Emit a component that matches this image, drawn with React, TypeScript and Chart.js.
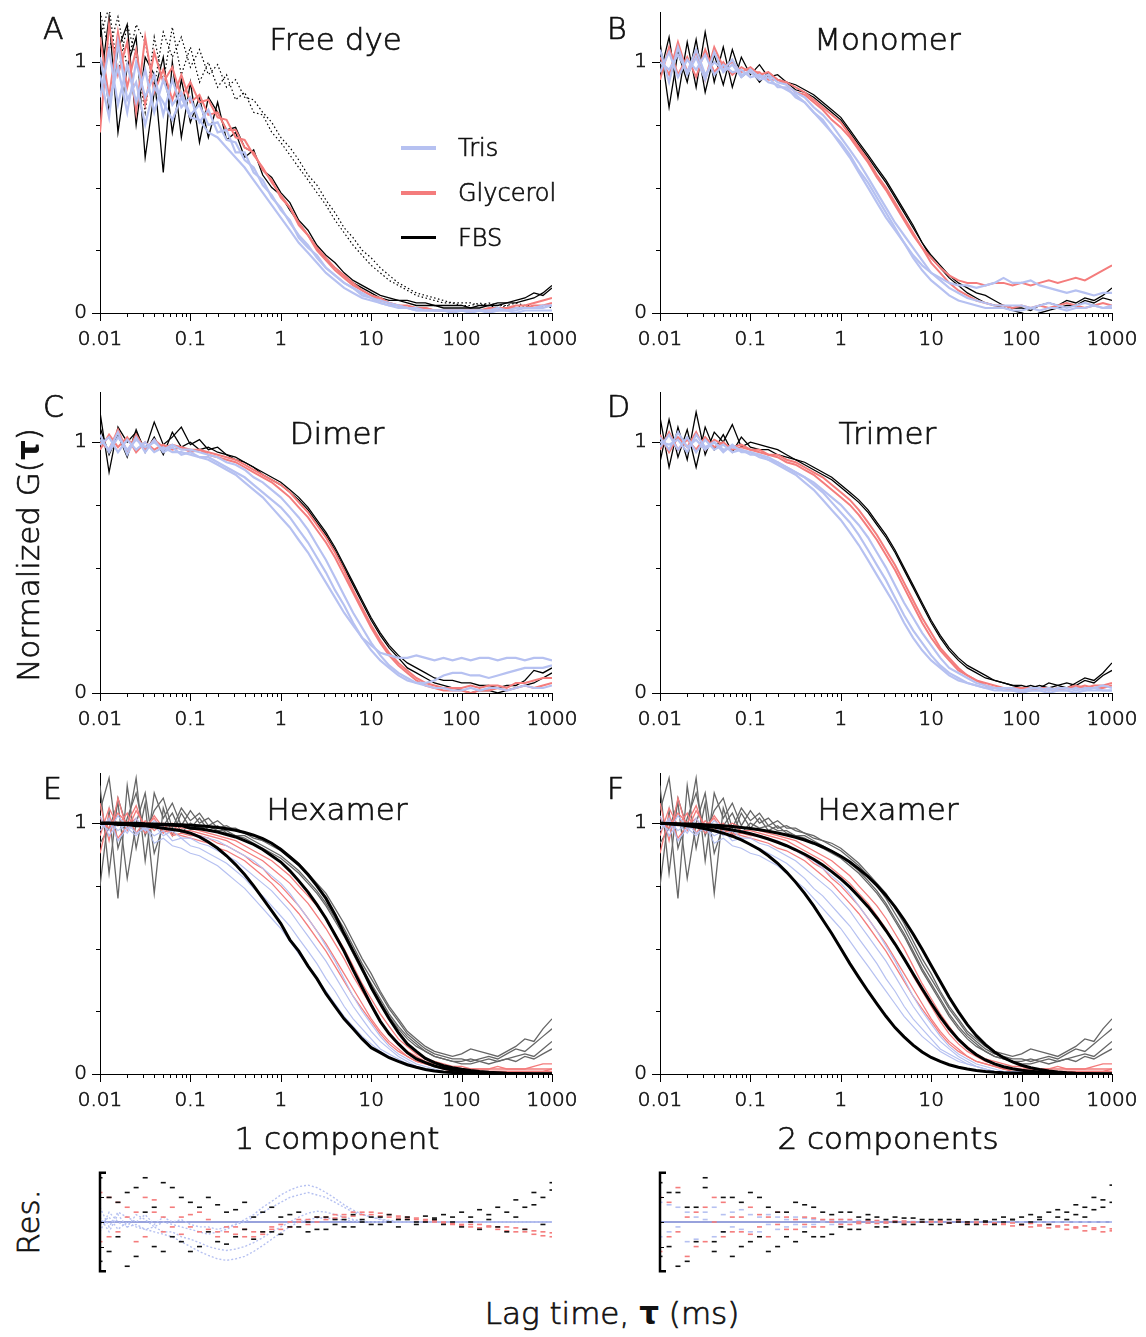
import React, { useEffect, useRef } from 'react';
import { Chart, registerables } from 'chart.js';
Chart.register(...registerables);

const FONT = "'DejaVu Sans', 'Liberation Sans', sans-serif";

// ---------- shared x grid (lag time, ms) and tick labels ----------
const xGrid = [
  0.01, 0.0126, 0.0158, 0.02, 0.0251, 0.0316, 0.0398, 0.0501, 0.0631, 0.0794,
  0.1, 0.126, 0.158, 0.2, 0.251, 0.316, 0.398, 0.501, 0.631, 0.794,
  1, 1.26, 1.58, 2, 2.51, 3.16, 3.98, 5.01, 6.31, 7.94,
  10, 12.6, 15.8, 20, 25.1, 31.6, 39.8, 50.1, 63.1, 79.4,
  100, 126, 158, 200, 251, 316, 398, 501, 631, 794, 1000,
];
const xTickLabels = ['0.01', '0.1', '1', '10', '100', '1000'];
const yTickLabels = ['0', '1'];
const legendLabels = ['Tris', 'Glycerol', 'FBS'];

// ---------- Panel A: Free dye ----------
const dyeTris = [
  [1.02,0.84,0.98,0.80,1.00,0.86,0.95,0.79,0.93,0.82, 0.86,0.76,0.81,0.72,0.73,0.64,0.64,0.56,0.53,0.46, 0.42,0.36,0.31,0.27,0.22,0.18,0.15,0.12,0.10,0.08, 0.06,0.05,0.04,0.03,0.02,0.02,0.01,0.01,0.01,0.01, 0.01,0.01,0.01,0.01,0.01,0.01,0.01,0.02,0.02,0.02,0.03],
  [0.86,1.05,0.83,0.99,0.84,0.97,0.80,0.93,0.83,0.88, 0.79,0.83,0.75,0.76,0.69,0.68,0.61,0.58,0.51,0.47, 0.41,0.37,0.30,0.26,0.23,0.18,0.15,0.12,0.10,0.07, 0.06,0.04,0.03,0.03,0.02,0.01,0.01,0.01,0.01,0.00, 0.01,0.00,0.01,0.00,0.01,0.01,0.00,0.01,0.01,0.01,0.01],
  [0.95,0.78,1.08,0.85,0.92,0.75,0.90,0.84,0.77,0.86, 0.78,0.77,0.72,0.70,0.66,0.62,0.58,0.53,0.48,0.43, 0.38,0.33,0.28,0.24,0.20,0.16,0.13,0.10,0.08,0.06, 0.05,0.04,0.03,0.02,0.02,0.01,0.01,0.01,0.01,0.01, 0.01,0.01,0.01,0.01,0.02,0.01,0.02,0.02,0.02,0.03,0.03],
];
const dyeGly = [
  [1.10,0.86,1.12,0.90,1.05,0.83,1.04,0.92,0.98,0.86, 0.92,0.84,0.85,0.78,0.77,0.70,0.69,0.63,0.58,0.52, 0.47,0.42,0.36,0.31,0.26,0.22,0.18,0.15,0.12,0.09, 0.07,0.06,0.04,0.03,0.03,0.02,0.02,0.01,0.01,0.01, 0.01,0.01,0.01,0.01,0.01,0.02,0.02,0.02,0.03,0.03,0.04],
  [0.72,1.15,0.95,1.08,0.80,1.10,0.88,0.97,0.85,0.95, 0.84,0.87,0.79,0.80,0.73,0.73,0.66,0.64,0.57,0.53, 0.46,0.42,0.35,0.31,0.25,0.21,0.17,0.14,0.11,0.09, 0.07,0.05,0.04,0.03,0.02,0.02,0.02,0.01,0.01,0.01, 0.01,0.01,0.01,0.02,0.02,0.02,0.03,0.03,0.04,0.05,0.06],
];
const dyeFbs = [
  [1.18,0.80,1.05,1.15,0.75,1.02,0.95,0.56,1.00,0.70, 0.92,0.68,0.86,0.80,0.73,0.74,0.66,0.64,0.57,0.54, 0.48,0.44,0.37,0.33,0.27,0.23,0.20,0.16,0.13,0.11, 0.09,0.07,0.06,0.05,0.05,0.04,0.04,0.03,0.03,0.03, 0.03,0.02,0.03,0.03,0.04,0.04,0.05,0.06,0.08,0.07,0.10],
  [0.90,1.18,0.72,0.98,1.10,0.62,0.88,1.02,0.72,0.93, 0.76,0.86,0.70,0.84,0.69,0.72,0.62,0.65,0.55,0.50, 0.47,0.41,0.36,0.31,0.26,0.21,0.18,0.15,0.12,0.10, 0.08,0.06,0.05,0.05,0.04,0.03,0.03,0.03,0.02,0.02, 0.02,0.02,0.02,0.03,0.03,0.04,0.04,0.05,0.06,0.08,0.11],
];
const dyeFbsDotted = [
  [1.20,1.05,1.18,0.98,1.15,1.08,0.90,1.12,1.02,1.10, 0.98,1.05,0.95,0.99,0.90,0.93,0.86,0.85,0.80,0.76, 0.70,0.66,0.61,0.55,0.51,0.45,0.40,0.34,0.30,0.25, 0.22,0.18,0.15,0.12,0.10,0.08,0.07,0.06,0.05,0.04, 0.04,0.04,0.03,0.04,0.03,0.03,0.04,0.03,0.03,0.03,0.03],
  [1.10,1.22,0.95,1.15,1.02,0.80,1.10,0.92,1.14,0.95, 1.06,0.92,1.00,0.90,0.95,0.85,0.88,0.80,0.79,0.72, 0.68,0.63,0.58,0.53,0.48,0.43,0.37,0.32,0.27,0.23, 0.19,0.16,0.13,0.11,0.09,0.07,0.06,0.05,0.04,0.04, 0.03,0.03,0.04,0.03,0.02,0.03,0.02,0.03,0.02,0.03,0.02],
];

// ---------- Panel B: Monomer ----------
const monoTris = [
  [1.05,0.92,1.06,0.95,1.02,0.93,1.04,0.96,0.99,0.94, 0.97,0.94,0.95,0.92,0.91,0.88,0.86,0.82,0.79,0.75, 0.70,0.65,0.60,0.54,0.48,0.42,0.36,0.31,0.26,0.21, 0.16,0.13,0.10,0.08,0.06,0.05,0.04,0.03,0.03,0.03, 0.03,0.02,0.03,0.04,0.03,0.02,0.03,0.04,0.03,0.02,0.03],
  [0.96,1.04,0.94,1.01,0.97,1.03,0.95,0.99,0.96,0.97, 0.94,0.95,0.92,0.91,0.89,0.87,0.84,0.80,0.76,0.72, 0.67,0.62,0.56,0.50,0.44,0.38,0.33,0.28,0.23,0.19, 0.16,0.14,0.12,0.11,0.11,0.10,0.11,0.12,0.14,0.12, 0.12,0.13,0.11,0.10,0.09,0.08,0.09,0.08,0.07,0.08,0.08],
  [1.00,0.97,1.03,0.96,1.05,0.95,1.00,0.97,1.01,0.95, 0.96,0.93,0.94,0.90,0.90,0.86,0.84,0.80,0.77,0.72, 0.68,0.63,0.57,0.52,0.46,0.40,0.34,0.28,0.22,0.17, 0.13,0.10,0.07,0.05,0.04,0.03,0.02,0.02,0.02,0.01, 0.01,0.02,0.01,0.02,0.02,0.01,0.02,0.02,0.03,0.02,0.02],
];
const monoGly = [
  [1.02,0.95,1.08,0.96,1.04,0.93,1.06,0.98,1.00,0.96, 0.98,0.95,0.96,0.93,0.92,0.90,0.88,0.85,0.82,0.79, 0.76,0.71,0.66,0.61,0.55,0.50,0.44,0.38,0.32,0.26, 0.20,0.16,0.12,0.09,0.07,0.05,0.04,0.03,0.03,0.02, 0.03,0.02,0.03,0.02,0.03,0.04,0.03,0.02,0.03,0.04,0.03],
  [0.93,1.06,0.95,1.02,0.94,1.05,0.96,1.00,0.95,0.98, 0.96,0.96,0.93,0.93,0.91,0.88,0.87,0.84,0.81,0.77, 0.74,0.70,0.65,0.60,0.54,0.49,0.43,0.37,0.31,0.26, 0.22,0.18,0.15,0.13,0.12,0.12,0.11,0.12,0.12,0.11, 0.12,0.11,0.12,0.13,0.12,0.13,0.14,0.13,0.15,0.17,0.19],
];
const monoFbs = [
  [0.95,1.10,0.86,1.08,0.90,1.12,0.92,1.06,0.90,1.02, 0.95,0.99,0.94,0.95,0.92,0.91,0.89,0.87,0.84,0.81, 0.78,0.73,0.68,0.63,0.58,0.53,0.47,0.41,0.35,0.28, 0.22,0.18,0.14,0.11,0.08,0.06,0.04,0.03,0.02,0.01, 0.00,-0.01,0.00,0.01,0.02,0.03,0.03,0.05,0.04,0.06,0.05],
  [1.08,0.82,1.04,0.92,1.09,0.88,1.03,0.91,1.05,0.94, 0.97,0.92,0.96,0.93,0.92,0.89,0.88,0.86,0.83,0.80, 0.77,0.72,0.67,0.62,0.57,0.52,0.46,0.40,0.34,0.28, 0.23,0.19,0.15,0.12,0.10,0.08,0.07,0.05,0.03,0.02, 0.02,0.01,0.03,0.04,0.03,0.05,0.04,0.06,0.05,0.07,0.10],
];

// ---------- Panel C: Dimer ----------
const dimTris = [
  [1.03,0.96,1.02,0.97,1.01,0.98,1.00,0.97,0.99,0.97, 0.97,0.96,0.95,0.94,0.92,0.91,0.89,0.86,0.84,0.81, 0.78,0.74,0.70,0.65,0.59,0.53,0.46,0.39,0.32,0.26, 0.20,0.15,0.11,0.08,0.06,0.04,0.03,0.02,0.02,0.01, 0.01,0.02,0.01,0.02,0.02,0.01,0.02,0.03,0.02,0.02,0.03],
  [0.99,1.02,0.96,1.01,0.97,1.00,0.96,0.98,0.96,0.96, 0.95,0.94,0.93,0.91,0.89,0.87,0.84,0.81,0.78,0.74, 0.70,0.66,0.61,0.56,0.50,0.44,0.38,0.32,0.27,0.22, 0.19,0.16,0.15,0.14,0.14,0.15,0.14,0.13,0.14,0.13, 0.14,0.13,0.14,0.14,0.13,0.14,0.14,0.13,0.14,0.14,0.13],
  [1.01,0.97,1.04,0.95,1.02,0.96,1.01,0.96,0.98,0.95, 0.96,0.94,0.94,0.92,0.90,0.88,0.86,0.83,0.80,0.77, 0.74,0.70,0.65,0.60,0.54,0.48,0.41,0.35,0.28,0.22, 0.17,0.13,0.10,0.07,0.05,0.04,0.04,0.05,0.07,0.08, 0.08,0.07,0.07,0.06,0.07,0.08,0.09,0.10,0.10,0.10,0.11],
];
const dimGly = [
  [1.00,0.97,1.05,0.96,1.03,0.97,1.01,0.98,0.99,0.98, 0.97,0.97,0.96,0.95,0.94,0.93,0.91,0.89,0.87,0.85, 0.83,0.80,0.76,0.72,0.67,0.62,0.56,0.49,0.41,0.34, 0.27,0.21,0.16,0.12,0.09,0.06,0.04,0.03,0.02,0.02, 0.02,0.03,0.02,0.03,0.03,0.02,0.04,0.04,0.05,0.06,0.06],
  [0.97,1.03,0.98,1.02,0.96,1.00,0.97,0.99,0.97,0.98, 0.96,0.97,0.95,0.94,0.93,0.92,0.90,0.88,0.86,0.84, 0.81,0.78,0.74,0.70,0.65,0.60,0.54,0.47,0.40,0.33, 0.26,0.20,0.15,0.11,0.08,0.05,0.03,0.02,0.01,0.01, 0.01,0.00,0.01,0.01,0.02,0.01,0.02,0.03,0.02,0.03,0.04],
];
const dimFbs = [
  [1.12,0.88,1.06,1.00,1.04,0.97,1.08,0.99,1.02,1.06, 0.99,1.01,0.97,0.98,0.95,0.94,0.92,0.90,0.88,0.86, 0.84,0.81,0.78,0.74,0.69,0.64,0.58,0.51,0.44,0.37, 0.30,0.24,0.19,0.15,0.12,0.10,0.08,0.06,0.05,0.05, 0.04,0.04,0.03,0.03,0.02,0.03,0.03,0.05,0.09,0.08,0.10],
  [1.06,0.95,1.03,0.94,1.05,0.96,1.02,0.95,1.04,0.98, 1.00,0.97,0.98,0.96,0.95,0.93,0.92,0.90,0.87,0.85, 0.83,0.80,0.77,0.73,0.68,0.63,0.57,0.50,0.43,0.36, 0.29,0.23,0.18,0.14,0.10,0.08,0.06,0.04,0.03,0.02, 0.01,0.00,0.01,0.01,0.00,0.01,0.02,0.03,0.04,0.06,0.08],
];

// ---------- Panel D: Trimer ----------
const triTris = [
  [1.02,0.97,1.04,0.98,1.01,0.97,1.00,0.96,0.99,0.96, 0.96,0.95,0.94,0.92,0.90,0.88,0.86,0.83,0.80,0.76, 0.72,0.68,0.63,0.57,0.51,0.45,0.38,0.31,0.25,0.20, 0.15,0.11,0.08,0.06,0.04,0.03,0.02,0.02,0.01,0.01, 0.01,0.01,0.01,0.02,0.01,0.01,0.02,0.01,0.02,0.01,0.01],
  [0.98,1.03,0.97,1.02,0.96,1.01,0.97,0.99,0.96,0.97, 0.95,0.95,0.93,0.92,0.90,0.88,0.86,0.84,0.81,0.78, 0.75,0.71,0.67,0.62,0.56,0.50,0.43,0.36,0.30,0.24, 0.19,0.14,0.10,0.08,0.06,0.04,0.03,0.02,0.02,0.02, 0.01,0.02,0.02,0.01,0.02,0.02,0.01,0.02,0.02,0.03,0.02],
  [1.00,0.99,1.01,0.96,1.03,0.98,1.00,0.97,0.98,0.97, 0.96,0.94,0.93,0.91,0.89,0.87,0.84,0.81,0.77,0.73, 0.69,0.64,0.59,0.53,0.47,0.41,0.35,0.28,0.22,0.17, 0.13,0.10,0.07,0.05,0.04,0.03,0.02,0.01,0.01,0.01, 0.00,0.01,0.01,0.00,0.01,0.01,0.00,0.01,0.01,0.01,0.01],
];
const triGly = [
  [1.03,0.96,1.02,0.98,1.04,0.97,1.01,0.99,0.98,0.99, 0.97,0.97,0.95,0.95,0.93,0.92,0.90,0.88,0.86,0.83, 0.80,0.77,0.73,0.68,0.63,0.57,0.51,0.44,0.37,0.30, 0.24,0.18,0.14,0.10,0.07,0.05,0.04,0.03,0.02,0.02, 0.02,0.02,0.02,0.01,0.02,0.02,0.03,0.02,0.03,0.03,0.04],
  [0.97,1.04,0.97,1.01,0.97,1.02,0.98,1.00,0.97,0.98, 0.97,0.96,0.95,0.94,0.92,0.91,0.89,0.87,0.84,0.81, 0.78,0.75,0.71,0.66,0.61,0.55,0.49,0.42,0.35,0.28, 0.22,0.17,0.13,0.09,0.07,0.05,0.03,0.02,0.02,0.01, 0.01,0.01,0.02,0.02,0.01,0.02,0.02,0.03,0.02,0.02,0.03],
];
const triFbs = [
  [1.10,0.90,1.06,0.93,1.12,0.95,1.04,1.00,1.07,0.98, 1.00,0.99,0.98,0.97,0.95,0.93,0.92,0.90,0.88,0.86, 0.83,0.80,0.77,0.73,0.68,0.63,0.57,0.50,0.43,0.36, 0.29,0.23,0.18,0.14,0.11,0.09,0.07,0.05,0.04,0.03, 0.03,0.02,0.03,0.02,0.03,0.04,0.03,0.05,0.04,0.07,0.09],
  [0.92,1.09,0.94,1.05,0.90,1.06,0.97,1.03,0.96,1.02, 0.98,0.97,0.97,0.95,0.94,0.93,0.91,0.89,0.87,0.85, 0.82,0.79,0.76,0.72,0.67,0.62,0.56,0.49,0.42,0.35, 0.28,0.22,0.17,0.13,0.10,0.08,0.06,0.05,0.04,0.03, 0.02,0.03,0.02,0.04,0.03,0.02,0.04,0.06,0.05,0.08,0.12],
];

// ---------- Panels E/F: Hexamer data (shared) ----------
const hexTris = [
  [0.97,1.02,0.93,0.98,0.95,0.99,0.92,0.94,0.91,0.90, 0.88,0.87,0.85,0.83,0.80,0.77,0.74,0.70,0.66,0.62, 0.58,0.53,0.48,0.43,0.38,0.33,0.28,0.23,0.19,0.15, 0.12,0.09,0.07,0.05,0.04,0.03,0.02,0.01,0.01,0.00, 0.00,0.00,0.00,0.00,0.00,0.00,0.00,0.00,0.00,0.00,0.00],
  [1.03,0.95,1.00,0.96,1.02,0.97,0.99,0.95,0.97,0.94, 0.94,0.92,0.91,0.89,0.87,0.85,0.82,0.79,0.76,0.73, 0.69,0.65,0.60,0.55,0.50,0.45,0.39,0.33,0.27,0.22, 0.17,0.13,0.10,0.07,0.05,0.03,0.02,0.01,0.01,0.00, 0.00,0.00,0.00,0.00,0.00,0.00,0.00,0.00,0.00,0.00,0.00],
  [0.99,1.01,0.97,1.00,0.96,0.98,0.95,0.97,0.93,0.94, 0.91,0.90,0.88,0.86,0.84,0.81,0.78,0.74,0.71,0.67, 0.63,0.59,0.54,0.49,0.44,0.38,0.33,0.27,0.22,0.18, 0.14,0.10,0.08,0.06,0.04,0.03,0.02,0.01,0.01,0.01, 0.00,0.00,0.00,0.00,0.00,0.00,0.00,0.00,0.00,0.00,0.00],
  [1.00,0.97,1.03,0.98,1.00,0.97,1.01,0.98,0.97,0.97, 0.96,0.95,0.94,0.93,0.91,0.89,0.87,0.85,0.82,0.79, 0.76,0.72,0.67,0.62,0.57,0.51,0.45,0.38,0.31,0.25, 0.20,0.15,0.11,0.08,0.06,0.04,0.03,0.02,0.01,0.01, 0.01,0.00,0.00,0.00,0.00,0.00,0.00,0.00,0.00,0.00,0.00],
];
const hexGly = [
  [1.08,0.93,1.10,0.97,1.05,0.99,1.02,0.96,0.99,0.97, 0.97,0.96,0.95,0.94,0.93,0.91,0.89,0.87,0.85,0.82, 0.79,0.76,0.72,0.68,0.63,0.58,0.52,0.46,0.39,0.33, 0.27,0.21,0.16,0.12,0.09,0.07,0.05,0.04,0.03,0.02, 0.02,0.02,0.02,0.02,0.02,0.02,0.02,0.02,0.02,0.02,0.02],
  [0.95,1.06,0.99,1.04,0.96,1.01,0.97,1.00,0.95,0.96, 0.95,0.95,0.94,0.92,0.91,0.89,0.87,0.84,0.82,0.78, 0.75,0.71,0.67,0.62,0.57,0.52,0.46,0.40,0.34,0.28, 0.22,0.17,0.13,0.10,0.07,0.05,0.04,0.03,0.02,0.02, 0.01,0.01,0.01,0.01,0.01,0.01,0.01,0.01,0.01,0.01,0.02],
  [1.02,0.98,1.04,1.00,1.07,0.97,1.03,0.98,1.00,0.98, 0.98,0.97,0.96,0.95,0.94,0.93,0.91,0.89,0.87,0.85, 0.82,0.79,0.75,0.71,0.67,0.62,0.56,0.50,0.43,0.36, 0.30,0.24,0.19,0.14,0.11,0.08,0.06,0.05,0.04,0.03, 0.03,0.02,0.02,0.02,0.03,0.02,0.02,0.02,0.03,0.04,0.04],
  [0.88,1.03,0.94,0.99,1.02,0.96,0.99,0.97,0.96,0.95, 0.94,0.93,0.92,0.90,0.89,0.87,0.85,0.82,0.79,0.76, 0.72,0.68,0.64,0.59,0.54,0.49,0.43,0.37,0.31,0.26, 0.21,0.16,0.12,0.09,0.07,0.05,0.04,0.03,0.02,0.01, 0.01,0.01,0.01,0.01,0.01,0.01,0.01,0.01,0.01,0.01,0.01],
];
const hexFbs = [
  [1.15,0.80,1.10,0.98,1.18,0.85,1.12,1.02,1.08,0.99, 1.05,1.00,1.02,0.98,0.99,0.97,0.96,0.94,0.93,0.91, 0.89,0.86,0.83,0.79,0.75,0.70,0.64,0.58,0.51,0.44, 0.38,0.32,0.26,0.21,0.16,0.13,0.10,0.08,0.07,0.06, 0.06,0.05,0.06,0.07,0.06,0.08,0.10,0.09,0.12,0.15,0.18],
  [0.75,1.05,0.70,1.15,0.90,1.08,0.72,1.06,0.95,1.04, 0.98,1.02,0.97,0.99,0.96,0.95,0.94,0.92,0.90,0.88, 0.86,0.83,0.80,0.76,0.72,0.67,0.61,0.55,0.48,0.41, 0.35,0.29,0.23,0.18,0.14,0.11,0.09,0.07,0.06,0.05, 0.05,0.06,0.05,0.04,0.05,0.06,0.05,0.07,0.06,0.08,0.10],
  [1.05,1.18,0.90,1.02,1.12,0.95,1.05,1.10,0.98,1.06, 1.01,1.04,0.99,1.01,0.98,0.98,0.96,0.95,0.93,0.92, 0.90,0.87,0.84,0.80,0.76,0.72,0.66,0.60,0.53,0.46, 0.40,0.33,0.27,0.22,0.17,0.14,0.11,0.09,0.08,0.07, 0.08,0.10,0.09,0.08,0.07,0.09,0.11,0.14,0.13,0.18,0.22],
  [0.92,0.98,1.08,0.78,1.00,1.12,0.88,0.99,1.04,0.96, 1.00,0.98,0.99,0.97,0.97,0.95,0.95,0.93,0.91,0.89, 0.87,0.84,0.81,0.77,0.73,0.68,0.62,0.56,0.49,0.42, 0.36,0.30,0.24,0.19,0.15,0.12,0.09,0.07,0.06,0.05, 0.04,0.04,0.05,0.06,0.05,0.06,0.07,0.08,0.07,0.10,0.13],
];

// fits, 1 component (panel E)
const fit1Tris = [1.00,1.00,0.995,0.995,0.99,0.99,0.985,0.98,0.975,0.97, 0.96,0.945,0.925,0.90,0.87,0.835,0.795,0.75,0.70,0.65, 0.60,0.535,0.49,0.43,0.38,0.32,0.27,0.22,0.18,0.14, 0.105,0.085,0.065,0.05,0.037,0.027,0.018,0.012,0.008,0.006, 0.004,0.003,0.002,0.0015,0.001,0.001,0,0,0,0,0];
const fit1Gly = [1.00,1.00,1.00,0.998,0.997,0.996,0.995,0.994,0.992,0.99, 0.98,0.978,0.972,0.965,0.955,0.945,0.93,0.915,0.895,0.87, 0.845,0.81,0.77,0.725,0.675,0.62,0.555,0.49,0.415,0.345, 0.275,0.21,0.16,0.12,0.085,0.06,0.045,0.032,0.023,0.016, 0.012,0.008,0.006,0.004,0.003,0.002,0.001,0.001,0,0,0];
const fit1Fbs = [1.00,1.00,1.00,1.00,1.00,0.998,0.997,0.996,0.995,0.994, 0.992,0.99,0.987,0.983,0.978,0.972,0.963,0.952,0.938,0.92, 0.895,0.865,0.835,0.795,0.75,0.70,0.635,0.56,0.49,0.42, 0.345,0.28,0.22,0.165,0.12,0.09,0.062,0.045,0.033,0.025, 0.019,0.014,0.01,0.007,0.005,0.003,0.002,0.001,0,0,0];
// fits, 2 components (panel F)
const fit2Tris = [1.00,0.998,0.995,0.99,0.985,0.978,0.97,0.96,0.948,0.933, 0.915,0.895,0.87,0.84,0.805,0.765,0.72,0.67,0.615,0.56, 0.50,0.44,0.385,0.33,0.28,0.23,0.185,0.148,0.115,0.088, 0.066,0.05,0.037,0.027,0.02,0.014,0.01,0.007,0.005,0.004, 0.003,0.002,0.001,0.001,0,0,0,0,0,0,0];
const fit2Gly = [1.00,0.998,0.996,0.994,0.991,0.988,0.984,0.979,0.973,0.966, 0.958,0.948,0.937,0.924,0.91,0.894,0.876,0.856,0.833,0.807, 0.778,0.745,0.708,0.667,0.622,0.572,0.518,0.46,0.40,0.34, 0.282,0.228,0.18,0.138,0.104,0.077,0.056,0.04,0.029,0.021, 0.015,0.011,0.008,0.005,0.004,0.003,0.002,0.001,0,0,0];
const fit2Fbs = [1.00,0.999,0.998,0.997,0.996,0.994,0.992,0.99,0.987,0.983, 0.979,0.974,0.968,0.961,0.953,0.944,0.933,0.92,0.905,0.888, 0.868,0.845,0.818,0.787,0.752,0.712,0.666,0.615,0.558,0.497, 0.433,0.369,0.306,0.248,0.197,0.153,0.117,0.088,0.065,0.048, 0.035,0.025,0.018,0.012,0.008,0.005,0.003,0.002,0.001,0,0];

// ---------- residuals ----------
const resZeroX = [0.01, 1000];
const resZeroY = [0, 0];
const res1Fbs = [
  [0.9,-0.6,0.4,-0.9,0.7,0.2,-0.5,0.8,-0.3,0.5, -0.6,0.3,0.5,-0.4,0.2,-0.3,0.4,0.1,-0.2,0.3, 0.1,-0.1,0.2,0.0,-0.15,0.1,0.05,-0.1,0.15,0.0, 0.1,-0.05,0.15,0.05,0.1,0.0,0.12,0.08,0.15,0.1, 0.2,0.1,0.25,0.15,0.3,0.2,0.45,0.3,0.6,0.5,0.8],
  [-0.8,0.5,-0.3,0.6,-0.7,0.9,0.3,-0.6,0.7,-0.4, 0.4,-0.5,-0.2,0.35,-0.45,0.25,-0.15,-0.35,0.2,-0.2, -0.25,0.15,-0.1,-0.2,0.1,-0.15,-0.05,0.05,-0.1,0.05, -0.05,0.1,0.0,-0.1,0.05,-0.05,0.0,0.05,-0.05,0.0, -0.1,0.0,-0.15,0.05,-0.1,-0.2,0.1,-0.15,0.35,-0.05,0.65],
];
const res1Gly = [
  [0.6,-0.3,0.4,0.1,-0.4,0.5,0.2,-0.2,0.3,0.1, -0.1,0.2,-0.15,-0.2,-0.1,-0.25,-0.15,-0.3,-0.2,-0.1, -0.15,0.0,0.05,-0.05,0.1,0.05,0.15,0.1,0.2,0.15, 0.2,0.12,0.15,0.08,0.1,0.05,0.05,0.0,0.0,-0.05, -0.05,-0.1,-0.05,-0.1,-0.15,-0.1,-0.2,-0.15,-0.25,-0.2,-0.3],
  [-0.4,0.5,-0.2,0.3,0.2,-0.3,0.45,0.1,-0.1,-0.25, 0.15,-0.2,0.05,-0.3,-0.2,-0.1,-0.3,-0.2,-0.25,-0.15, -0.05,-0.1,0.0,0.05,0.0,0.1,0.08,0.15,0.12,0.2, 0.15,0.18,0.1,0.12,0.06,0.08,0.02,0.03,-0.02,-0.03, -0.08,-0.05,-0.12,-0.08,-0.1,-0.18,-0.12,-0.2,-0.18,-0.28,-0.22],
];
const res1Tris = [
  [0.3,-0.1,0.2,0.1,0.0,0.15,-0.05,0.1,0.0,0.05, -0.05,-0.1,-0.1,-0.15,-0.1,-0.05,0.0,0.1,0.2,0.3, 0.4,0.5,0.55,0.6,0.55,0.5,0.4,0.3,0.2,0.15, 0.1,0.05,0.02,0.0,0.0,0.0,0.0,0.0,0.0,0.0, 0,0,0,0,0,0,0,0,0,0,0],
  [-0.2,0.2,0.0,-0.1,0.15,0.05,-0.1,0.0,-0.05,-0.1, -0.15,-0.2,-0.25,-0.2,-0.15,-0.05,0.05,0.15,0.3,0.42, 0.55,0.65,0.72,0.75,0.7,0.6,0.48,0.35,0.24,0.16, 0.1,0.06,0.03,0.01,0,0,0,0,0,0, 0,0,0,0,0,0,0,0,0,0,0],
  [0.1,-0.2,0.15,-0.1,-0.05,-0.15,-0.2,-0.25,-0.3,-0.4, -0.5,-0.6,-0.68,-0.75,-0.78,-0.75,-0.7,-0.6,-0.48,-0.35, -0.22,-0.1,0.0,0.05,0.08,0.08,0.06,0.04,0.02,0.01, 0,0,0,0,0,0,0,0,0,0, 0,0,0,0,0,0,0,0,0,0,0],
  [-0.05,0.1,-0.15,0.0,-0.1,-0.15,-0.1,-0.2,-0.2,-0.3, -0.35,-0.42,-0.5,-0.55,-0.58,-0.55,-0.5,-0.42,-0.32,-0.2, -0.1,0.0,0.1,0.18,0.22,0.2,0.15,0.1,0.05,0.02, 0,0,0,0,0,0,0,0,0,0, 0,0,0,0,0,0,0,0,0,0,0],
];
const res2Fbs = [
  [0.8,-0.5,0.6,-0.8,0.3,0.9,-0.4,0.5,-0.7,0.4, 0.6,-0.3,0.3,-0.5,0.2,0.4,-0.2,0.3,-0.3,0.15, 0.2,-0.15,0.1,0.15,-0.1,0.05,0.1,-0.05,0.08,0.0, 0.05,-0.05,0.05,0.0,-0.05,0.05,0.0,0.05,0.1,0.05, 0.1,0.15,0.1,0.2,0.25,0.2,0.35,0.3,0.5,0.45,0.75],
  [-0.7,0.6,-0.9,0.3,-0.4,0.7,-0.6,-0.2,0.5,-0.5, -0.4,0.5,-0.6,0.2,-0.3,-0.4,0.35,-0.3,0.2,-0.25, -0.1,0.2,-0.15,0.05,0.1,-0.1,0.0,0.08,-0.05,0.05, -0.05,0.05,-0.02,0.05,0.0,-0.05,0.02,-0.05,0.0,0.05, -0.05,0.0,0.05,-0.05,0.1,0.05,0.15,0.1,0.25,0.3,0.4],
];
const res2Gly = [
  [0.5,-0.3,0.7,0.1,-0.5,0.3,0.0,0.4,-0.2,0.1, 0.3,-0.1,0.1,0.2,-0.15,0.05,0.1,-0.1,0.05,0.0, 0.05,-0.05,0.0,0.03,-0.03,0.0,0.02,-0.02,0.0,0.0, 0.0,0.02,-0.02,0.0,-0.03,0.0,-0.05,-0.03,-0.05,-0.08, -0.06,-0.1,-0.08,-0.12,-0.1,-0.15,-0.12,-0.18,-0.15,-0.2,-0.18],
  [-0.6,0.4,-0.2,-0.7,0.2,-0.4,0.5,-0.3,0.1,-0.2, -0.25,0.15,-0.3,-0.05,0.1,-0.15,-0.05,0.08,-0.1,0.05, -0.05,0.05,-0.03,-0.02,0.03,-0.02,0.0,0.02,-0.01,0.0, 0.01,0.0,-0.01,0.02,0.0,-0.02,0.0,-0.02,-0.04,-0.02, -0.05,-0.03,-0.06,-0.05,-0.08,-0.06,-0.1,-0.08,-0.12,-0.1,-0.14],
];
const res2Tris = [
  [0.4,-0.2,0.3,-0.4,0.1,0.2,-0.3,0.15,-0.1,0.25, -0.2,0.1,0.15,-0.15,0.05,0.1,-0.1,0.05,0.0,-0.05, 0.05,0.0,-0.03,0.03,0.0,-0.02,0.02,0.0,0.0,0.0, 0,0,0,0,0,0,0,0,0,0, 0,0,0,0,0,0,0,0,0,0,0],
  [-0.3,0.35,-0.1,0.2,-0.35,0.05,0.3,-0.2,0.2,-0.15, 0.15,-0.2,-0.05,0.1,-0.1,-0.05,0.08,-0.05,0.04,0.02, -0.03,0.02,0.03,-0.02,0.01,0.02,-0.01,0.0,0.01,0.0, 0,0,0,0,0,0,0,0,0,0, 0,0,0,0,0,0,0,0,0,0,0],
];

// ---------- styling ----------
const C_TRIS = '#b6c1f1';
const C_GLY = '#f47c7c';
const C_FBS = '#000000';
const C_GREY = '#666666';
const TEXT_COLOR = '#111';

function pts(ys: number[], xs: number[] = xGrid) {
  return xs.map((x, i) => ({ x, y: ys[i] }));
}
function line(ys: number[], color: string, width: number, dash: number[] = []) {
  return { type: 'line', data: pts(ys), borderColor: color, borderWidth: width, borderDash: dash, pointRadius: 0, fill: false, tension: 0 };
}
function dashes(ys: number[], color: string) {
  return { type: 'line', data: pts(ys), showLine: false, borderColor: color, backgroundColor: color, pointStyle: 'line', pointRadius: 2.5, pointBorderWidth: 1.6, pointBorderColor: color };
}

function xLabel(v: number) {
  const lg = Math.log10(v);
  const r = Math.round(lg);
  return Math.abs(lg - r) < 1e-6 ? (xTickLabels[r + 2] ?? '') : '';
}

const tickPlugin = {
  id: 'customTicks',
  afterDraw(chart: any) {
    const { ctx } = chart;
    const xs = chart.scales.x;
    const ys = chart.scales.y;
    ctx.save();
    ctx.strokeStyle = '#000';
    ctx.lineWidth = 1;
    ctx.beginPath();
    for (const t of xs.ticks) {
      const lg = Math.log10(t.value);
      const major = Math.abs(lg - Math.round(lg)) < 1e-6;
      const px = Math.round(xs.getPixelForValue(t.value)) + 0.5;
      ctx.moveTo(px, xs.top);
      ctx.lineTo(px, xs.top + (major ? 8 : 4));
    }
    for (const t of ys.ticks) {
      if (t.value > 1.0001) continue;
      const major = t.value === 0 || t.value === 1;
      const py = Math.round(ys.getPixelForValue(t.value)) + 0.5;
      ctx.moveTo(ys.right, py);
      ctx.lineTo(ys.right - (major ? 8 : 4), py);
    }
    ctx.stroke();
    ctx.restore();
  },
};

const bracketPlugin = {
  id: 'resBracket',
  afterDraw(chart: any) {
    const { ctx } = chart;
    const ys = chart.scales.y;
    const left = chart.chartArea.left;
    const top = ys.getPixelForValue(1);
    const bot = ys.getPixelForValue(-1);
    ctx.save();
    ctx.strokeStyle = '#000';
    ctx.lineWidth = 2.5;
    ctx.beginPath();
    ctx.moveTo(left + 6, top);
    ctx.lineTo(left, top);
    ctx.lineTo(left, bot);
    ctx.lineTo(left + 6, bot);
    ctx.stroke();
    ctx.lineWidth = 1;
    ctx.beginPath();
    for (const v of [0.5, 0, -0.5]) {
      const py = Math.round(ys.getPixelForValue(v)) + 0.5;
      ctx.moveTo(left, py);
      ctx.lineTo(left + 4, py);
    }
    ctx.stroke();
    ctx.restore();
  },
};

const tickFont = { family: FONT, size: 20, weight: '300' };
const hiddenGrid = { display: true, drawOnChartArea: false, drawTicks: true, tickLength: 8, color: 'rgba(0,0,0,0)' };

function mainConfig(datasets: any[]) {
  return {
    type: 'line',
    data: { datasets },
    plugins: [tickPlugin],
    options: {
      animation: false,
      responsive: false,
      events: [],
      layout: { padding: { left: 0, right: 32, top: 10, bottom: 0 } },
      plugins: { legend: { display: false }, tooltip: { enabled: false } },
      scales: {
        x: {
          type: 'logarithmic', min: 0.01, max: 1000,
          afterFit: (s: any) => { s.height = 40; s.paddingLeft = 0; s.paddingRight = 0; },
          grid: hiddenGrid,
          border: { display: true, color: '#000', width: 1 },
          ticks: { autoSkip: false, maxRotation: 0, minRotation: 0, padding: 7, color: TEXT_COLOR, textStrokeColor: TEXT_COLOR, textStrokeWidth: 0.7, font: tickFont, callback: (v: number) => xLabel(v) },
        },
        y: {
          type: 'linear', min: 0, max: 1.2,
          afterFit: (s: any) => { s.width = 40; s.paddingTop = 0; s.paddingBottom = 0; },
          grid: hiddenGrid,
          border: { display: true, color: '#000', width: 1 },
          ticks: { stepSize: 0.25, includeBounds: false, autoSkip: false, padding: 5, color: TEXT_COLOR, textStrokeColor: TEXT_COLOR, textStrokeWidth: 0.7, font: tickFont,
            callback: (v: number) => (v === 0 ? yTickLabels[0] : v === 1 ? yTickLabels[1] : '') },
        },
      },
    },
  };
}

function resConfig(datasets: any[]) {
  return {
    type: 'line',
    data: { datasets },
    plugins: [bracketPlugin],
    options: {
      animation: false,
      responsive: false,
      events: [],
      layout: { padding: { left: 40, right: 32, top: 10, bottom: 10 } },
      plugins: { legend: { display: false }, tooltip: { enabled: false } },
      scales: {
        x: { type: 'logarithmic', min: 0.01, max: 1000, display: false },
        y: { type: 'linear', min: -1.2, max: 1.2, display: false },
      },
    },
  };
}

function panelDatasets(tris: number[][], gly: number[][], fbs: number[][], extra: any[] = []) {
  return [
    ...tris.map((d) => line(d, C_TRIS, 2.2)),
    ...gly.map((d) => line(d, C_GLY, 2)),
    ...fbs.map((d) => line(d, C_FBS, 1.3)),
    ...extra,
  ];
}

function hexDatasets(fits: number[][]) {
  return [
    ...fits.map((d) => line(d, '#000', 3)),
    ...hexTris.map((d) => line(d, C_TRIS, 1.2)),
    ...hexGly.map((d) => line(d, C_GLY, 1.3)),
    ...hexFbs.map((d) => line(d, C_GREY, 1.3)),
  ];
}

const zeroLine = { type: 'line', data: pts(resZeroY, resZeroX), borderColor: '#98a2dc', borderWidth: 2, pointRadius: 0 };

const charts = [
  { left: 60, top: 2, w: 524, h: 351, cfg: () => mainConfig(panelDatasets(dyeTris, dyeGly, dyeFbs, dyeFbsDotted.map((d) => line(d, '#000', 1.2, [1.5, 2.5])))) },
  { left: 620, top: 2, w: 524, h: 351, cfg: () => mainConfig(panelDatasets(monoTris, monoGly, monoFbs)) },
  { left: 60, top: 382, w: 524, h: 351, cfg: () => mainConfig(panelDatasets(dimTris, dimGly, dimFbs)) },
  { left: 620, top: 382, w: 524, h: 351, cfg: () => mainConfig(panelDatasets(triTris, triGly, triFbs)) },
  { left: 60, top: 763, w: 524, h: 351, cfg: () => mainConfig(hexDatasets([fit1Tris, fit1Gly, fit1Fbs])) },
  { left: 620, top: 763, w: 524, h: 351, cfg: () => mainConfig(hexDatasets([fit2Tris, fit2Gly, fit2Fbs])) },
  { left: 60, top: 1153, w: 524, h: 138, cfg: () => resConfig([
      ...res1Fbs.map((d) => dashes(d, '#111')),
      ...res1Gly.map((d) => dashes(d, C_GLY)),
      ...res1Tris.map((d) => line(d, C_TRIS, 1.4, [2, 2])),
      zeroLine,
    ]) },
  { left: 620, top: 1153, w: 524, h: 138, cfg: () => resConfig([
      ...res2Fbs.map((d) => dashes(d, '#111')),
      ...res2Gly.map((d) => dashes(d, C_GLY)),
      ...res2Tris.map((d) => dashes(d, C_TRIS)),
      zeroLine,
    ]) },
];

function ChartBox({ spec }: { spec: any }) {
  const ref = useRef<HTMLCanvasElement | null>(null);
  useEffect(() => {
    if (!ref.current) return;
    const c = new Chart(ref.current, spec.cfg());
    return () => c.destroy();
  }, []);
  return (
    <canvas ref={ref} width={spec.w} height={spec.h}
      style={{ position: 'absolute', left: spec.left, top: spec.top, width: spec.w, height: spec.h }} />
  );
}

const textBase: React.CSSProperties = { position: 'absolute', fontFamily: FONT, fontWeight: 300, color: TEXT_COLOR, lineHeight: 1, whiteSpace: 'nowrap', WebkitTextStroke: '0.7px #111' } as any;

function T({ x, y, size, children, center = false }: any) {
  const style: React.CSSProperties = center
    ? { ...textBase, left: x - 250, width: 500, textAlign: 'center', top: y, fontSize: size }
    : { ...textBase, left: x, top: y, fontSize: size };
  return <div style={style}>{children}</div>;
}

function V({ cx, cy, size, children }: any) {
  return (
    <div style={{ ...textBase, left: cx - 200, top: cy - 20, width: 400, height: 40, lineHeight: '40px', textAlign: 'center', fontSize: size, transform: 'rotate(-90deg)' }}>
      {children}
    </div>
  );
}

export default function App() {
  const legendColors = [C_TRIS, C_GLY, C_FBS];
  const legendY = [148, 193, 237.5];
  return (
    <div style={{ position: 'absolute', left: 0, top: 0, width: 1146, height: 1337, background: '#fff', overflow: 'hidden' }}>
      {charts.map((s, i) => <ChartBox key={i} spec={s} />)}

      <T x={43} y={13.5} size={30}>A</T>
      <T x={607} y={13.5} size={30}>B</T>
      <T x={43} y={391.5} size={30}>C</T>
      <T x={607} y={391.5} size={30}>D</T>
      <T x={43} y={773.5} size={30}>E</T>
      <T x={607} y={773.5} size={30}>F</T>

      <T x={335.5} y={24.4} size={31} center>Free dye</T>
      <T x={887.5} y={24.4} size={31} center>Monomer</T>
      <T x={337} y={418} size={31} center>Dimer</T>
      <T x={887.5} y={418} size={31} center>Trimer</T>
      <T x={337} y={794.4} size={31} center>Hexamer</T>
      <T x={888} y={794.4} size={31} center>Hexamer</T>
      <T x={337} y={1123.4} size={31} center>1 component</T>
      <T x={888} y={1123.4} size={31} center>2 components</T>
      <T x={612} y={1298.4} size={31} center>Lag time, <span style={{ fontWeight: 700, WebkitTextStroke: '0px' } as any}>τ</span> (ms)</T>

      <V cx={28} cy={555} size={31}>Normalized G(<span style={{ fontWeight: 700, WebkitTextStroke: '0px' } as any}>τ</span>)</V>
      <V cx={28} cy={1222} size={31}>Res.</V>

      {legendLabels.map((lab, i) => (
        <React.Fragment key={lab}>
          <div style={{ position: 'absolute', left: 401, top: legendY[i] - 1.75, width: 35, height: 3.5, background: legendColors[i] }} />
          <T x={458} y={legendY[i] - 11.6} size={24}>{lab}</T>
        </React.Fragment>
      ))}
    </div>
  );
}
